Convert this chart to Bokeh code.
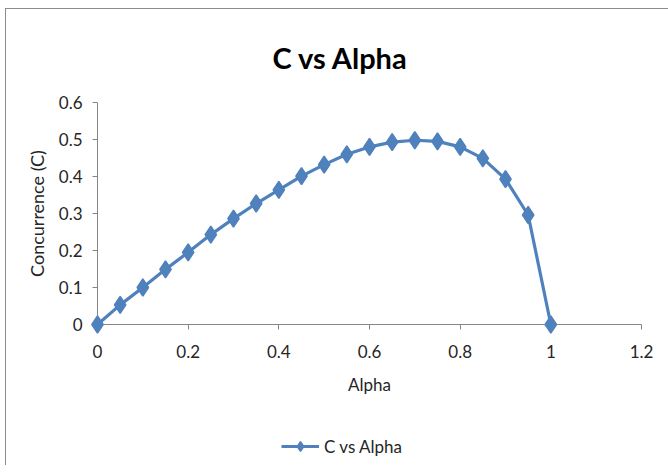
from bokeh.plotting import figure
from bokeh.layouts import column
from bokeh.models import Range1d, FixedTicker, Legend, LegendItem, Title
from bokeh.embed import file_html
from bokeh.resources import INLINE

alpha = [0.0, 0.05, 0.1, 0.15, 0.2, 0.25, 0.3, 0.35, 0.4, 0.45, 0.5,
         0.55, 0.6, 0.65, 0.7, 0.75, 0.8, 0.85, 0.9, 0.95, 1.0]
concurrence = [0.0, 0.053, 0.100, 0.149, 0.195, 0.243, 0.286, 0.327, 0.364, 0.401, 0.432,
               0.460, 0.480, 0.493, 0.498, 0.495, 0.480, 0.449, 0.393, 0.296, 0.0]
x_ticks = [0, 0.2, 0.4, 0.6, 0.8, 1.0, 1.2]
x_tick_labels = ["0", "0.2", "0.4", "0.6", "0.8", "1", "1.2"]
y_ticks = [0, 0.1, 0.2, 0.3, 0.4, 0.5, 0.6]
y_tick_labels = ["0", "0.1", "0.2", "0.3", "0.4", "0.5", "0.6"]
series_name = "C vs Alpha"

FONT = "Lato"
BLUE = "#4F81BD"
GRAY = "#868686"
TXT = "#262626"

p = figure(width=662, height=400, output_backend="svg", toolbar_location=None,
           x_range=Range1d(0, 1.2), y_range=Range1d(0, 0.6),
           min_border_left=91, min_border_right=27, min_border_top=91, min_border_bottom=85)
p.outline_line_color = None
p.grid.grid_line_color = None
p.background_fill_color = "white"
p.border_fill_color = "white"

p.title = Title(text="C vs Alpha", align="left", offset=175, standoff=56,
                text_font=FONT, text_font_size="29px", text_font_style="bold", text_color="black")

for ax, ticks, labels in ((p.xaxis[0], x_ticks, x_tick_labels), (p.yaxis[0], y_ticks, y_tick_labels)):
    ax.ticker = FixedTicker(ticks=ticks)
    ax.major_label_overrides = {t: l for t, l in zip(ticks, labels)}
    ax.axis_line_color = GRAY
    ax.major_tick_line_color = GRAY
    ax.major_tick_out = 5
    ax.major_tick_in = 0
    ax.minor_tick_line_color = None
    ax.major_label_text_font = FONT
    ax.major_label_text_font_size = "17px"
    ax.major_label_text_color = TXT
    ax.axis_label_text_font = FONT
    ax.axis_label_text_font_size = "17px"
    ax.axis_label_text_font_style = "normal"
    ax.axis_label_text_color = TXT

p.xaxis.axis_label = "Alpha"
p.xaxis.major_label_standoff = 15
p.xaxis.axis_label_standoff = 13
p.yaxis.axis_label = "Concurrence (C)"
p.yaxis.axis_label_text_font_size = "18px"
p.yaxis.major_label_standoff = 10
p.yaxis.axis_label_standoff = 8

line_kw = dict(line_color=BLUE, line_width=3.2)
mark_kw = dict(marker="diamond", size=17, fill_color=BLUE, line_color=BLUE, line_width=1.5)

p.line(alpha, concurrence, level="overlay", **line_kw)
p.scatter(alpha, concurrence, level="overlay", **mark_kw)

# legend strip below the chart (its glyphs reuse the series, kept out of this strip's view)
lf = figure(width=662, height=56, output_backend="svg", toolbar_location=None,
            x_range=Range1d(10, 11), y_range=Range1d(10, 11),
            min_border=0, min_border_left=0, min_border_right=0, min_border_top=0, min_border_bottom=0)
lf.axis.visible = False
lf.grid.grid_line_color = None
lf.outline_line_color = None
lf.background_fill_color = "white"
lf.border_fill_color = "white"
lg_line = lf.line(alpha, concurrence, **line_kw)
lg_mark = lf.scatter(alpha, concurrence, **mark_kw)
legend = Legend(items=[LegendItem(label=series_name, renderers=[lg_line, lg_mark])],
                location=(184, 7), margin=0, label_text_font=FONT, label_text_font_size="17px",
                label_text_color=TXT, glyph_width=38, glyph_height=24, border_line_color=None,
                background_fill_alpha=0)
lf.add_layout(legend)

layout = column(p, lf, spacing=0,
                styles={"margin-left": "5px", "margin-top": "8px",
                        "border-left": "1px solid #8c8c8c", "border-top": "1px solid #8c8c8c"})

open("out.html", "w").write(file_html(layout, INLINE))
